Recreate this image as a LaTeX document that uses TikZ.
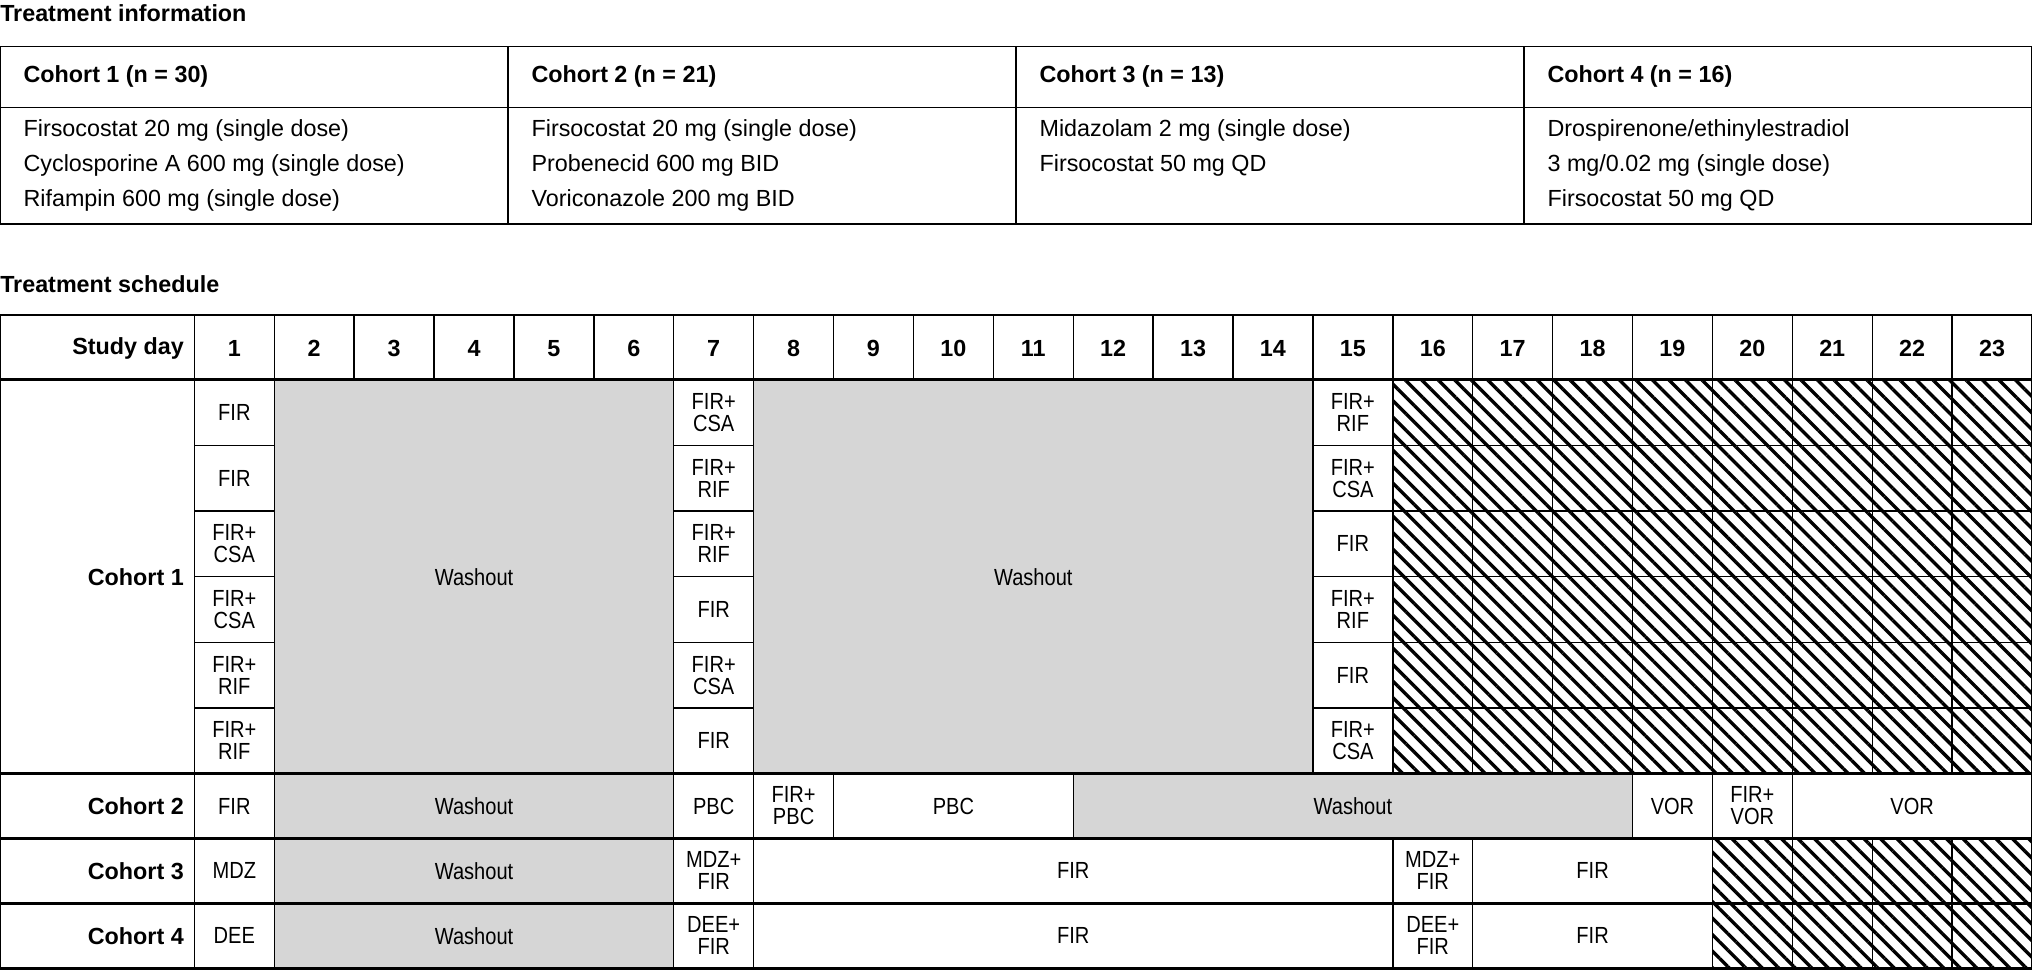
\documentclass[tikz,border=0pt]{standalone}
\usepackage{fontspec}
\setmainfont{Liberation Sans}
\newfontfamily\narrowfont[FakeStretch=0.86]{Liberation Sans}
\usetikzlibrary{patterns.meta,calc}

% day column edges and row edges
\newcommand{\dx}[1]{150+(#1-1)*61.652}
\newcommand{\cellbox}[6]{% style, first day, last day, top, bottom, text
  \path[#1] ({\dx{#2}},-#4) rectangle ({\dx{#3+1}},-#5);
  \node[celltext] at ({(\dx{#2}+\dx{#3+1})/2},{-(#4+#5)/2}) {#6};}
\newcommand{\cohortrow}[4]{% row number, day 1, day 7, day 15
  \pgfmathsetmacro\rtop{293+(#1-1)*50.667}
  \pgfmathsetmacro\rbot{293+#1*50.667}
  \cellbox{plainbox}{1}{1}{\rtop}{\rbot}{#2}
  \cellbox{plainbox}{7}{7}{\rtop}{\rbot}{#3}
  \cellbox{plainbox}{15}{15}{\rtop}{\rbot}{#4}
  \foreach \dd in {16,...,23} {\cellbox{hatchbox}{\dd}{\dd}{\rtop}{\rbot}{}}}

\begin{document}
\begin{tikzpicture}[x=1pt,y=1pt,
  grid/.style={draw=black,line width=1.1pt},
  washbox/.style={grid,fill=black!16},
  plainbox/.style={grid,fill=white},
  hatchbox/.style={grid,pattern={Lines[angle=-45,distance=9pt,line width=2.6pt]}},
  celltext/.style={font=\narrowfont\fontsize{18}{17}\selectfont,align=center,inner sep=0pt},
  infotext/.style={font=\fontsize{18}{27}\selectfont,align=left,anchor=north west,inner sep=0pt},
  title/.style={font=\bfseries\fontsize{18}{20}\selectfont,anchor=west,inner sep=0pt},
  thick line/.style={line width=2.4pt}]
\useasboundingbox (0,0) rectangle (1568,-749);

% treatment information
\node[title] (infotitle) at (0,-10) {Treatment information};
\draw[grid] (0,-36) rectangle (1568,-173);
\draw[grid] (0,-83) -- (1568,-83);
\foreach \c in {392,784,1176} \draw[grid] (\c,-36) -- (\c,-173);
\node[title] (h1) at (18,-59) {Cohort 1 (n = 30)};
\node[title] (h2) at (410,-59) {Cohort 2 (n = 21)};
\node[title] (h3) at (802,-59) {Cohort 3 (n = 13)};
\node[title] (h4) at (1194,-59) {Cohort 4 (n = 16)};
\node[infotext] (t1) at (18,-92) {Firsocostat 20 mg (single dose)\\Cyclosporine A 600 mg (single dose)\\Rifampin 600 mg (single dose)};
\node[infotext] (t2) at (410,-92) {Firsocostat 20 mg (single dose)\\Probenecid 600 mg BID\\Voriconazole 200 mg BID};
\node[infotext] (t3) at (802,-92) {Midazolam 2 mg (single dose)\\Firsocostat 50 mg QD};
\node[infotext] (t4) at (1194,-92) {Drospirenone/ethinylestradiol\\3 mg/0.02 mg (single dose)\\Firsocostat 50 mg QD};

% treatment schedule
\node[title] (schedtitle) at (0,-219) {Treatment schedule};
\draw[grid] (0,-243) rectangle (1568,-293);
\foreach \d in {1,...,23} {
  \draw[grid] ({\dx{\d}},-243) -- ({\dx{\d}},-293);
  \node[font=\bfseries\fontsize{18}{20}\selectfont] (day\d) at ({\dx{\d}+30.8},-269) {\d};
}
\node[title,anchor=east] (sd) at (142,-269) {Study day};

% cohort 1
\cellbox{washbox}{2}{6}{293}{597}{Washout}
\cellbox{washbox}{8}{14}{293}{597}{Washout}
\cohortrow{1}{FIR}{FIR+\\CSA}{FIR+\\RIF}
\cohortrow{2}{FIR}{FIR+\\RIF}{FIR+\\CSA}
\cohortrow{3}{FIR+\\CSA}{FIR+\\RIF}{FIR}
\cohortrow{4}{FIR+\\CSA}{FIR}{FIR+\\RIF}
\cohortrow{5}{FIR+\\RIF}{FIR+\\CSA}{FIR}
\cohortrow{6}{FIR+\\RIF}{FIR}{FIR+\\CSA}
% cohort 2
\cellbox{plainbox}{1}{1}{597}{647}{FIR}
\cellbox{washbox}{2}{6}{597}{647}{Washout}
\cellbox{plainbox}{7}{7}{597}{647}{PBC}
\cellbox{plainbox}{8}{8}{597}{647}{FIR+\\PBC}
\cellbox{plainbox}{9}{11}{597}{647}{PBC}
\cellbox{washbox}{12}{18}{597}{647}{Washout}
\cellbox{plainbox}{19}{19}{597}{647}{VOR}
\cellbox{plainbox}{20}{20}{597}{647}{FIR+\\VOR}
\cellbox{plainbox}{21}{23}{597}{647}{VOR}
% cohorts 3 and 4
\foreach \drug/\rtop/\rbot in {MDZ/647/697, DEE/697/747} {
  \cellbox{plainbox}{1}{1}{\rtop}{\rbot}{\drug}
  \cellbox{washbox}{2}{6}{\rtop}{\rbot}{Washout}
  \cellbox{plainbox}{7}{7}{\rtop}{\rbot}{\drug+\\FIR}
  \cellbox{plainbox}{8}{15}{\rtop}{\rbot}{FIR}
  \cellbox{plainbox}{16}{16}{\rtop}{\rbot}{\drug+\\FIR}
  \cellbox{plainbox}{17}{19}{\rtop}{\rbot}{FIR}
  \foreach \dd in {20,...,23} {\cellbox{hatchbox}{\dd}{\dd}{\rtop}{\rbot}{}}
}
% row labels and frame
\node[title,anchor=east] (c1) at (142,-445) {Cohort 1};
\node[title,anchor=east] (c2) at (142,-622) {Cohort 2};
\node[title,anchor=east] (c3) at (142,-672) {Cohort 3};
\node[title,anchor=east] (c4) at (142,-722) {Cohort 4};
\draw[grid] (0,-293) -- (0,-747) (150,-293) -- (150,-747) (1568,-293) -- (1568,-747);
\foreach \y in {293,597,647,697,747} \draw[thick line] (0,-\y) -- (1568,-\y);
\end{tikzpicture}
\end{document}
